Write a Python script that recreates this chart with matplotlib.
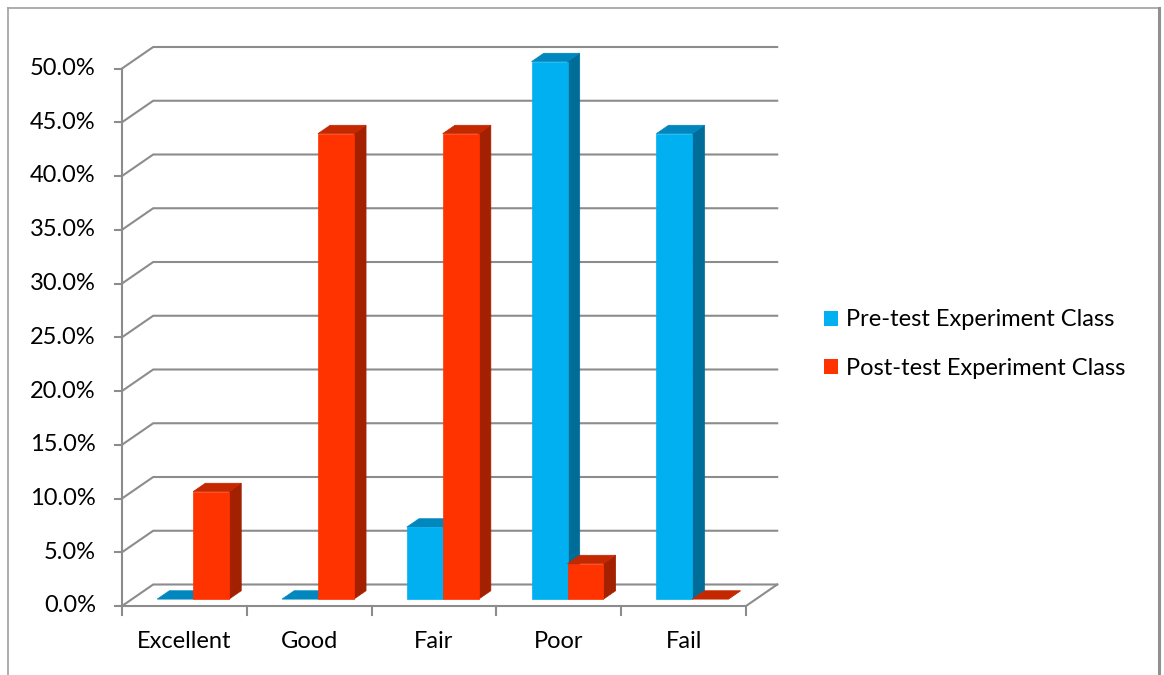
import matplotlib.pyplot as plt
from matplotlib.patches import Polygon, Patch
from matplotlib.lines import Line2D

categories = ["Excellent", "Good", "Fair", "Poor", "Fail"]
pre_test = [0.0, 0.0, 6.7, 50.0, 43.3]
post_test = [10.0, 43.3, 43.3, 3.3, 0.0]
series_names = ["Pre-test Experiment Class", "Post-test Experiment Class"]
y_ticks = [0, 5, 10, 15, 20, 25, 30, 35, 40, 45, 50]

# front / top / side shades for each series
pre_cols = ("#00B0F0", "#0087BE", "#006C98")
post_cols = ("#FF3300", "#C42800", "#A32000")

grid_col = "#8C8C8C"
FONT = "Lato"
FS = 17

# depth of the fake 3d box, in data units
DX, DY = 0.25, 2.0
F0, F1 = 0.32, 0.71   # front / back of the bars inside the depth
BW = 0.288

W, H = 1164, 675
fig = plt.figure(figsize=(W / 100, H / 100), dpi=100)
ax = fig.add_axes([122 / W, 1 - 606 / H, 624 / W, (606 - 68.5) / H])
ax.set_xlim(0, len(categories))
ax.set_ylim(0, 50)
ax.axis("off")


def bar3d(x0, v, cols):
    x1 = x0 + BW
    bx, by = F0 * DX, F0 * DY
    ex, ey = F1 * DX, F1 * DY
    side = [(x1 + bx, by), (x1 + ex, ey), (x1 + ex, v + ey), (x1 + bx, v + by)]
    top = [(x0 + bx, v + by), (x1 + bx, v + by), (x1 + ex, v + ey), (x0 + ex, v + ey)]
    front = [(x0 + bx, by), (x1 + bx, by), (x1 + bx, v + by), (x0 + bx, v + by)]
    ax.add_patch(Polygon(side, closed=True, fc=cols[2], ec=cols[2], lw=0.5, zorder=3, clip_on=False))
    ax.add_patch(Polygon(top, closed=True, fc=cols[1], ec=cols[1], lw=0.5, zorder=3, clip_on=False))
    if v > 0:
        ax.add_patch(Polygon(front, closed=True, fc=cols[0], ec=cols[0], lw=0.5, zorder=3, clip_on=False))


# walls / gridlines
n = len(categories)
for v in y_ticks:
    ax.plot([0, DX, n + DX], [v, v + DY, v + DY], color=grid_col, lw=1.5, zorder=1, clip_on=False)
    ax.plot([-0.056, 0], [v, v], color=grid_col, lw=1.5, zorder=1, clip_on=False)
    ax.text(-0.21, v, f"{v:.1f}%", ha="right", va="center", fontsize=FS, family=FONT)
ax.plot([0, 0], [0, 50], color=grid_col, lw=1.5, zorder=1, clip_on=False)
ax.plot([0, n, n + DX], [0, 0, DY], color=grid_col, lw=1.5, zorder=1, clip_on=False)
for i in range(n + 1):
    ax.plot([i, i], [0, -0.85], color=grid_col, lw=1.5, zorder=1, clip_on=False)

for i, cat in enumerate(categories):
    c = i + 0.5 - 0.01
    bar3d(c - BW, pre_test[i], pre_cols)
    bar3d(c, post_test[i], post_cols)
    ax.text(i + 0.5, -3.3, cat, ha="center", va="center", fontsize=FS, family=FONT)

handles = [Patch(fc=pre_cols[0], ec="none"), Patch(fc=post_cols[0], ec="none")]
fig.legend(handles, series_names, loc="center left", bbox_to_anchor=(824 / W, 1 - 344 / H),
           frameon=False, borderpad=0, borderaxespad=0, handlelength=0.6, handleheight=0.6,
           handletextpad=0.35, labelspacing=1.15, prop={"family": FONT, "size": FS})

# outer chart border (bottom edge is outside the picture)
bc = "#A0A0A0"
fig.add_artist(Line2D([8 / W, 8 / W], [0, 1 - 8 / H], color=bc, lw=1.2, transform=fig.transFigure))
fig.add_artist(Line2D([8 / W, 1159 / W], [1 - 8 / H, 1 - 8 / H], color=bc, lw=1.2, transform=fig.transFigure))
fig.add_artist(Line2D([1159 / W, 1159 / W], [0, 1 - 8 / H], color="#909090", lw=2.2, transform=fig.transFigure))

fig.savefig("out.png", dpi=100)
